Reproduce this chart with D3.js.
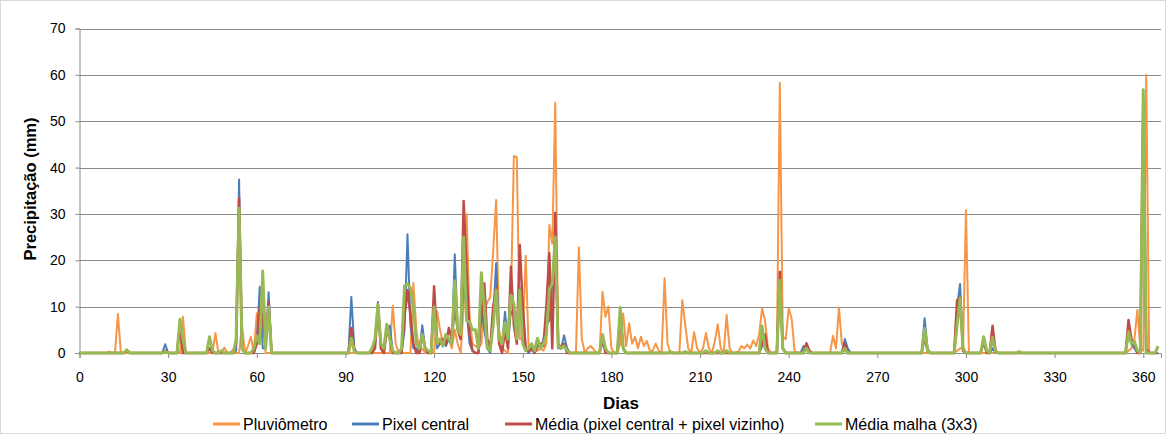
<!DOCTYPE html>
<html>
<head>
<meta charset="utf-8">
<script src="https://cdn.jsdelivr.net/npm/d3@7"></script>
<style>
  body { margin: 0; background: #fff; }
  svg { display: block; font-family: 'Liberation Sans Narrow', 'Liberation Sans', Arial, sans-serif; }
</style>
</head>
<body>
<svg id="chart" width="1166" height="434"></svg>
<script>
// daily rainfall, only the non-zero days (all other days are 0)
const pluvDays = [10,13,35,46,49,52,55,57,58,60,61,62,106,107,113,114,116,118,121,122,123,124,125,126,127,128,130,131,132,133,134,135,136,137,138,139,140,141,142,143,144,146,147,148,149,150,151,152,153,154,155,156,157,158,159,160,161,162,163,164,165,169,170,172,173,174,177,178,179,180,183,184,185,186,187,188,189,190,191,192,193,194,195,196,198,199,204,205,206,208,209,211,212,213,215,216,217,219,220,223,224,225,226,227,228,229,230,231,232,233,236,237,238,239,240,241,242,245,246,255,256,257,258,259,297,298,299,300,355,356,357,358,359,360,361];
const pluvVals = [0.3,8.4,7.8,4.3,1.2,0.8,6,1.5,3.5,8.6,4,6.5,10.2,2,15.1,5,1,0.5,9,5,2,4,3,1,5,2,10,30,8,2,1.5,1,2,9,11,12,22,33,5,1,0.5,12,42.5,42.2,3,3,21,1,0.5,1,0.5,1,0.5,2,27.6,23.6,54,1.4,1,1.5,1,22.8,3,1,1.5,0.8,13.2,7.8,10,1,2,8.5,1.5,6.4,2,3.5,1,3.5,1.5,2.6,0.5,0.5,2,0.5,16.1,2,11.4,6,1,4.5,1,1,4.3,1,2.5,6.2,1,8.2,1,0.3,1.5,1,1.8,1,2.7,1.5,4,9.6,7,1,0.5,58.3,3.5,3,9.6,7.5,0.5,0.5,0.8,3.7,1,9.8,2,0.5,0.5,1,1,30.8,0.5,1,3,9.3,1,0.5,60];

const pixelDays = [16,29,34,44,53,54,55,59,60,61,62,63,64,92,93,99,100,101,102,104,105,106,110,111,112,113,114,116,117,120,121,122,123,124,125,126,127,128,129,130,131,132,133,136,137,138,140,141,142,143,144,145,146,147,148,149,150,151,153,155,156,157,158,159,160,161,162,163,164,165,177,178,183,184,231,232,237,238,245,246,259,260,286,287,297,298,299,306,309,355,356,357,360,361];
const pixelVals = [0.5,1.9,6.5,1,0.5,37.4,1,1,2,14.3,1,1,13.1,12.1,1,0.5,2,11,1,5,5.9,0.5,5,25.6,6,1,1,6,1,9,1,2,3,1.5,3,2,21.3,5,3,15.7,9,2,0.5,10,5,1,8,19.4,3,2,8.9,2,9,8,6,14,10,1,1,2,1,3,6,7,15,24,1,1,3.8,1,2,1,9,1,1.5,3,15,1,1.5,1,3,1,7.5,1,10,14.9,1,3.5,1,4,2,1,55,1];

const mediaDays = [16,29,34,44,53,54,55,60,61,62,63,64,92,93,100,101,102,104,105,110,111,112,113,116,117,120,121,122,123,124,125,126,127,128,129,130,131,132,133,136,137,138,139,140,141,142,144,145,146,147,148,149,150,151,152,153,155,156,157,158,159,160,161,162,163,164,177,183,184,231,232,237,238,246,247,259,286,287,297,298,299,306,309,310,355,356,357,360,361];
const mediaVals = [0.5,0.5,6,1,2,33.4,1,2,10,8,2,11,5.4,0.5,1,10,1,5,3,8,13.6,8,2,4,1,14.4,3,2,3,2,5.4,3,10,5,3,32.8,18,4,0.5,8,15,3,1,10,14,2,5,1,18.6,6,2,23.3,10,1,0.5,1,1.5,2,1.5,10,21.5,1,30.2,2,1,2,3,8,1,2,4,17.5,1,2.1,0.5,2,3.5,0.5,11.4,12,0.5,2.5,5.9,0.5,7.1,3,2,54,1];

const malhaDays = [16,29,34,35,44,45,48,53,54,55,59,60,61,62,63,64,92,93,99,100,101,102,103,104,105,106,109,110,111,112,113,114,115,116,117,118,120,121,122,123,124,125,126,127,128,129,130,131,132,133,134,135,136,137,138,139,140,141,142,143,144,145,146,147,148,149,150,151,152,153,154,155,156,157,158,159,160,161,162,163,164,165,177,178,183,184,200,205,212,216,219,231,232,237,238,246,259,286,287,297,298,299,306,307,309,310,318,355,356,357,358,360,365];
const malhaVals = [0.7,0.3,7.3,3,3.5,0.5,0.5,3,31.2,1,1,3.7,2,17.7,1,10,3.2,0.3,1,3,10.5,2,1,6.2,3,0.5,1,14.5,14.9,14,10,2,1,4,1,0.5,10,2,3,1.5,4,3,2,15.6,5,4,25,7,6.7,5,5,1,17.3,10,1,0.5,6,13.6,3,2,6.6,3,12.5,10.5,3,13.6,2,0.5,1,2,0.5,3.2,1,2,4,13.6,15,25,1.5,1,1.5,0.5,4,1,9.8,1,0.3,0.3,0.5,0.5,0.5,5.8,1,15.7,1,1,1,5.3,0.5,6,11.8,1,3.5,0.5,3.4,0.3,0.3,4.6,2,2.5,0.5,56.8,1.5];

const seriesNames = ["Pluviômetro", "Pixel central", "Média (pixel central + pixel vizinho)", "Média malha (3x3)"];
const seriesColors = ["#F79646", "#4A7EBB", "#BE4B48", "#98B954"];
const xTicks = [0,30,60,90,120,150,180,210,240,270,300,330,360];
const yTicks = [0,10,20,30,40,50,60,70];

function daily(days, vals) {
  const out = d3.range(0, 366).map(d => ({ day: d, v: 0 }));
  days.forEach((d, i) => { out[d].v = vals[i]; });
  return out;
}
const series = [
  daily(pluvDays, pluvVals),
  daily(pixelDays, pixelVals),
  daily(mediaDays, mediaVals),
  daily(malhaDays, malhaVals)
];
const widths = [2, 2, 2.5, 3];

const svg = d3.select("#chart");
const plotLeft = 79.5, plotRight = 1161, plotTop = 28.5, plotBottom = 353;

const x = d3.scaleLinear().domain([0, 366]).range([plotLeft, plotRight]);
const y = d3.scaleLinear().domain([0, 70]).range([plotBottom, plotTop]);

// outer frame
svg.append("rect").attr("x", 0.5).attr("y", 0.5).attr("width", 1165).attr("height", 433)
  .attr("fill", "none").attr("stroke", "#d9d9d9");

// gridlines
svg.append("g").selectAll("line").data(yTicks.slice(1)).join("line")
  .attr("x1", plotLeft).attr("x2", plotRight)
  .attr("y1", d => Math.round(y(d)) + 0.5).attr("y2", d => Math.round(y(d)) + 0.5)
  .attr("stroke", "#898989").attr("stroke-width", 1);

// y axis
const yAxis = svg.append("g").attr("transform", `translate(${plotLeft},0)`)
  .call(d3.axisLeft(y).tickValues(yTicks).tickSize(4).tickPadding(10));
yAxis.select(".domain").attr("stroke", "#898989");
yAxis.selectAll(".tick line").attr("stroke", "#898989");
yAxis.selectAll("text").attr("font-size", 14).attr("fill", "#000");

// x axis
const xAxis = svg.append("g").attr("transform", `translate(0,${plotBottom})`)
  .call(d3.axisBottom(x).tickValues(xTicks).tickSize(5).tickPadding(14));
xAxis.select(".domain").attr("stroke", "#898989");
xAxis.selectAll(".tick line").attr("stroke", "#898989");
xAxis.selectAll("text").attr("font-size", 14).attr("fill", "#000");

// lines
const line = d3.line().x(d => x(d.day)).y(d => y(d.v));
series.forEach((s, i) => {
  svg.append("path").datum(s)
    .attr("d", line)
    .attr("fill", "none")
    .attr("stroke", seriesColors[i])
    .attr("stroke-width", widths[i])
    .attr("stroke-linejoin", "round");
});

// titles
svg.append("text").attr("x", 621).attr("y", 409).attr("text-anchor", "middle")
  .attr("font-size", 17).attr("font-weight", "bold").text("Dias");
svg.append("text").attr("transform", "translate(36,189) rotate(-90)").attr("text-anchor", "middle")
  .attr("font-size", 16.5).attr("font-weight", "bold").text("Precipitação (mm)");

// legend
const legendX = [213, 352, 505, 815];
const lg = svg.append("g");
seriesNames.forEach((name, i) => {
  lg.append("line").attr("x1", legendX[i]).attr("x2", legendX[i] + 27)
    .attr("y1", 424).attr("y2", 424)
    .attr("stroke", seriesColors[i]).attr("stroke-width", 3);
  lg.append("text").attr("x", legendX[i] + 30).attr("y", 429.5)
    .attr("font-size", 16).text(name);
});
</script>
</body>
</html>
